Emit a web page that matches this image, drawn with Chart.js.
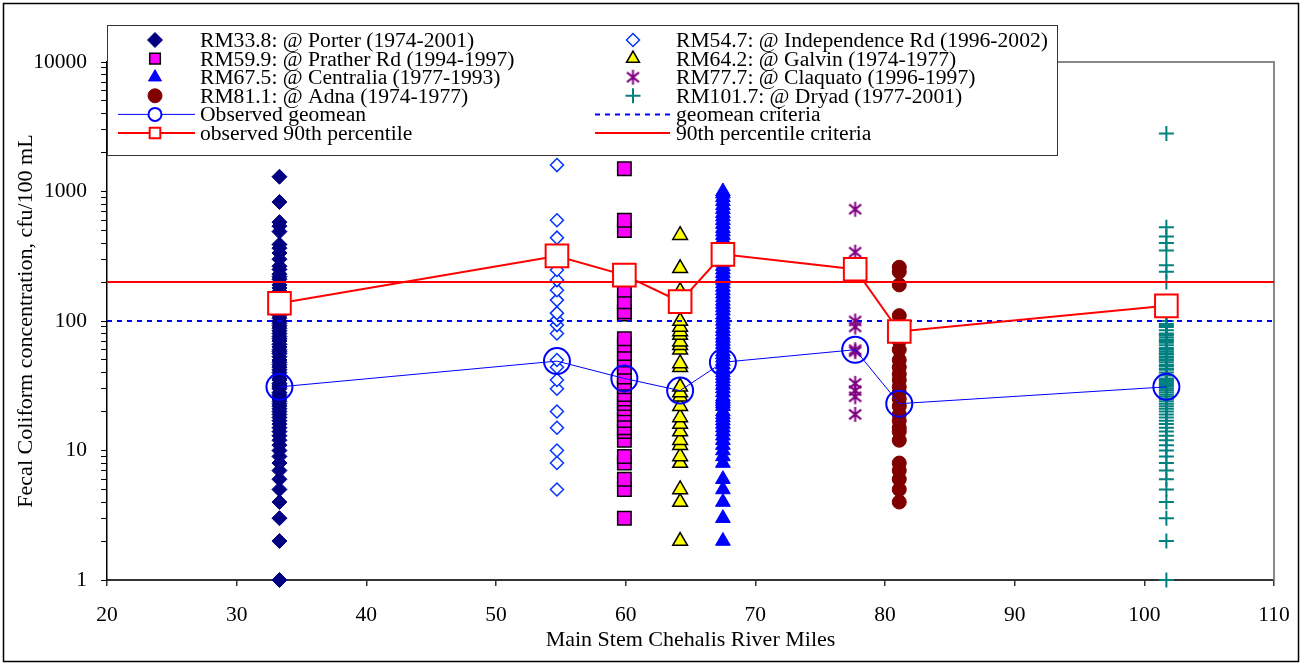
<!DOCTYPE html>
<html>
<head>
<meta charset="utf-8">
<script src="https://cdn.jsdelivr.net/npm/chart.js@4.4.1/dist/chart.umd.min.js"></script>
<style>
  html, body { margin: 0; padding: 0; background: #fff; }
  #wrap { width: 1302px; height: 665px; }
</style>
</head>
<body>
<div id="wrap"><canvas id="myChart" width="1302" height="665" style="width:1302px;height:665px"></canvas></div>
<script>
// station labels and river mile positions
const stationLabels = [
  "RM33.8: @ Porter (1974-2001)",
  "RM54.7: @ Independence Rd (1996-2002)",
  "RM59.9: @ Prather Rd (1994-1997)",
  "RM64.2: @ Galvin (1974-1977)",
  "RM67.5: @ Centralia (1977-1993)",
  "RM77.7: @ Claquato (1996-1997)",
  "RM81.1: @ Adna (1974-1977)",
  "RM101.7: @ Dryad (1977-2001)",
];
const stationMiles = [33.3, 54.7, 59.9, 64.2, 67.5, 77.7, 81.1, 101.7];

// fecal coliform samples, cfu/100 mL
const porterValues = [1, 2, 3, 4, 5, 6, 7, 8, 9, 10, 11, 12, 13, 14, 15, 16, 17, 18, 19, 20, 21, 22, 23, 24, 25, 26, 27, 28, 30, 31, 32, 33, 35, 36, 38, 40, 42, 44, 46, 48, 50, 53, 56, 58, 60, 63, 66, 70, 73, 76, 80, 84, 88, 92, 96, 100, 105, 110, 115, 120, 125, 130, 140, 150, 160, 170, 180, 190, 200, 210, 220, 230, 250, 265, 300, 335, 365, 390, 490, 540, 580, 830, 1300];
const independenceValues = [5, 8, 10, 15, 20, 30, 35, 44, 50, 80, 93, 102, 115, 145, 173, 207, 248, 305, 440, 600, 1600];
const pratherValues = [3, 5, 6, 8, 9, 12, 14, 15, 17, 19, 21, 23, 25, 27, 31, 33, 37, 44, 50, 56, 65, 73, 113, 118, 141, 173, 500, 600, 1500];
const galvinValues = [2, 4, 5, 8, 9, 11, 12, 14, 16, 18, 22, 26, 28, 31, 44, 47, 60, 65, 69, 78, 83, 90, 100, 170, 255, 460];
const centraliaValues = [2, 3, 4, 5, 6, 8, 9, 10, 11, 12, 13, 14, 15, 16, 17, 18, 19, 20, 22, 23, 24, 25, 26, 28, 30, 32, 34, 36, 38, 40, 43, 46, 49, 52, 55, 58, 62, 66, 70, 74, 78, 83, 88, 94, 100, 106, 112, 120, 127, 135, 143, 152, 162, 172, 183, 195, 207, 220, 234, 249, 265, 282, 300, 320, 340, 360, 380, 400, 430, 460, 490, 520, 560, 600, 640, 680, 730, 780, 840, 900, 960, 1000];
const claquatoValues = [19, 26, 29, 33, 58, 60, 90, 100, 340, 730];
const adnaValues = [4, 5, 6, 7, 8, 12, 14, 15, 17, 19, 22, 25, 28, 31, 35, 39, 44, 50, 60, 70, 80, 90, 110, 190, 240, 260];
const dryadValues = [1, 2, 3, 4, 5, 6, 7, 8, 9, 10, 11, 12, 13, 14, 15, 16, 17, 18, 19, 20, 21, 22, 23, 24, 25, 26, 27, 28, 29, 30, 31, 32, 33, 34, 35, 36, 38, 40, 42, 43, 45, 46, 48, 50, 52, 53, 55, 56, 58, 60, 62, 65, 68, 70, 72, 75, 78, 80, 85, 90, 92, 95, 100, 200, 240, 270, 350, 400, 450, 530, 2800];
const stationValues = [porterValues, independenceValues, pratherValues, galvinValues, centraliaValues, claquatoValues, adnaValues, dryadValues];

const geomeanValues = [31, 49, 36, 29, 48, 60, 23, 31];
const pct90Values = [137, 318, 226, 141, 327, 251, 83, 131];
const geomeanCriteria = 100;
const pct90Criteria = 200;

const xMin = 20;
const xMax = 110;
const xStep = 10;
const yTickLabels = [1, 10, 100, 1000, 10000];

const FONT = '"Liberation Serif", "Times New Roman", serif';

function makeAsterisk(size, color) {
  const c = document.createElement("canvas");
  c.width = size;
  c.height = size;
  const g = c.getContext("2d");
  const m = size / 2;
  const r = size / 2 - 1;
  g.strokeStyle = color;
  g.lineWidth = 2;
  g.beginPath();
  g.moveTo(m, m - r);
  g.lineTo(m, m + r);
  g.moveTo(m - r * 0.8, m - r * 0.65);
  g.lineTo(m + r * 0.8, m + r * 0.65);
  g.moveTo(m - r * 0.8, m + r * 0.65);
  g.lineTo(m + r * 0.8, m - r * 0.65);
  g.stroke();
  return c;
}

const stationStyles = [
  { pointStyle: "rectRot", radius: 7.5, fill: "#000080", border: "#000080", width: 1 },
  { pointStyle: "rectRot", radius: 6.5, fill: "#ffffff", border: "#0033ff", width: 1.5 },
  { pointStyle: "rect", radius: 9.5, fill: "#ff00ff", border: "#000000", width: 1.5 },
  { pointStyle: "triangle", radius: 8.5, fill: "#ffff00", border: "#000000", width: 1.5 },
  { pointStyle: "triangle", radius: 8.5, fill: "#0000ff", border: "#0000ff", width: 1 },
  { pointStyle: makeAsterisk(17, "#800080"), radius: 8, fill: "#800080", border: "#800080", width: 2 },
  { pointStyle: "circle", radius: 7, fill: "#800000", border: "#800000", width: 1 },
  { pointStyle: "cross", radius: 7.5, fill: "#008080", border: "#008080", width: 2 },
];

const datasets = stationValues.map((vals, i) => ({
  label: stationLabels[i],
  data: vals.map((v) => ({ x: stationMiles[i], y: v })),
  showLine: false,
  pointStyle: stationStyles[i].pointStyle,
  pointRadius: stationStyles[i].radius,
  pointHoverRadius: stationStyles[i].radius,
  pointBackgroundColor: stationStyles[i].fill,
  pointBorderColor: stationStyles[i].border,
  pointBorderWidth: stationStyles[i].width,
  legendRadius: stationStyles[i].radius,
  clip: false,
  order: 10,
}));

datasets.push({
  label: "Observed geomean",
  data: geomeanValues.map((v, i) => ({ x: stationMiles[i], y: v })),
  showLine: true,
  borderColor: "#0000ff",
  borderWidth: 1,
  pointStyle: "circle",
  pointRadius: 13,
  pointBackgroundColor: "rgba(0,0,0,0)",
  pointBorderColor: "#0000ff",
  pointBorderWidth: 2,
  legendRadius: 6.5,
  clip: false,
  order: 2,
});
datasets.push({
  label: "observed 90th percentile",
  data: pct90Values.map((v, i) => ({ x: stationMiles[i], y: v })),
  showLine: true,
  borderColor: "#ff0000",
  borderWidth: 2,
  pointStyle: "rect",
  pointRadius: 16,
  pointBackgroundColor: "#ffffff",
  pointBorderColor: "#ff0000",
  pointBorderWidth: 2,
  legendRadius: 8,
  clip: false,
  order: 1,
});
datasets.push({
  label: "geomean criteria",
  data: [{ x: xMin, y: geomeanCriteria }, { x: xMax, y: geomeanCriteria }],
  showLine: true,
  borderColor: "#0000ff",
  borderWidth: 2,
  borderDash: [5, 5],
  pointRadius: 0,
  legendRadius: 0,
  order: 5,
});
datasets.push({
  label: "90th percentile criteria",
  data: [{ x: xMin, y: pct90Criteria }, { x: xMax, y: pct90Criteria }],
  showLine: true,
  borderColor: "#ff0000",
  borderWidth: 2,
  pointRadius: 0,
  legendRadius: 0,
  order: 5,
});

// log axis ticks 1..9 per decade
const yTickValues = [];
for (let d = 0; d < yTickLabels.length - 1; d++) {
  for (let k = 1; k < 10; k++) yTickValues.push(k * yTickLabels[d]);
}
yTickValues.push(yTickLabels[yTickLabels.length - 1]);

const legendColumns = [
  [0, 2, 4, 6, 8, 9],
  [1, 3, 5, 7, 10, 11],
];

const boxLegend = {
  id: "boxLegend",
  afterDraw(chart) {
    const ctx = chart.ctx;
    const box = { x: 107, y: 25, w: 950, h: 130 };
    ctx.save();
    ctx.fillStyle = "#ffffff";
    ctx.fillRect(box.x, box.y, box.w, box.h);
    ctx.strokeStyle = "#333333";
    ctx.lineWidth = 1;
    ctx.strokeRect(box.x + 0.5, box.y + 0.5, box.w, box.h);
    const cols = [
      { marker: 155, x0: 118, x1: 195, text: 200 },
      { marker: 633, x0: 595, x1: 670, text: 676 },
    ];
    legendColumns.forEach((col, c) => {
      col.forEach((di, r) => {
        const ds = chart.data.datasets[di];
        const cy = 40 + r * 18.6;
        const lay = cols[c];
        if (ds.showLine) {
          ctx.save();
          ctx.strokeStyle = ds.borderColor;
          ctx.lineWidth = ds.borderWidth;
          ctx.setLineDash(ds.borderDash || []);
          ctx.beginPath();
          ctx.moveTo(lay.x0, cy);
          ctx.lineTo(lay.x1, cy);
          ctx.stroke();
          ctx.restore();
        }
        if (ds.legendRadius > 0) {
          ctx.save();
          ctx.strokeStyle = ds.pointBorderColor;
          ctx.lineWidth = ds.pointBorderWidth;
          ctx.fillStyle = ds.pointBackgroundColor === "rgba(0,0,0,0)" ? "#ffffff" : ds.pointBackgroundColor;
          Chart.helpers.drawPoint(ctx, {
            pointStyle: ds.pointStyle,
            rotation: 0,
            radius: Math.min(ds.legendRadius, 7.5),
            borderWidth: ds.pointBorderWidth,
          }, lay.marker, cy);
          ctx.restore();
        }
        ctx.fillStyle = "#000000";
        ctx.font = "21.6px " + FONT;
        ctx.textBaseline = "alphabetic";
        ctx.fillText(ds.label, lay.text, cy + 7);
      });
    });
    ctx.restore();
  },
};

const framePlugin = {
  id: "frame",
  beforeDraw(chart) {
    const ctx = chart.ctx;
    ctx.save();
    ctx.fillStyle = "#ffffff";
    ctx.fillRect(0, 0, chart.width, chart.height);
    ctx.restore();
  },
  beforeDatasetsDraw(chart) {
    const { ctx, chartArea } = chart;
    ctx.save();
    ctx.strokeStyle = "#888888";
    ctx.lineWidth = 2;
    ctx.beginPath();
    ctx.moveTo(chartArea.left, chartArea.top);
    ctx.lineTo(chartArea.right, chartArea.top);
    ctx.lineTo(chartArea.right, chartArea.bottom);
    ctx.stroke();
    ctx.restore();
  },
  afterDraw(chart) {
    const ctx = chart.ctx;
    ctx.save();
    ctx.strokeStyle = "#000000";
    ctx.lineWidth = 1.5;
    ctx.strokeRect(3.5, 3.5, chart.width - 7, chart.height - 7);
    ctx.restore();
  },
};

Chart.defaults.color = "#000000";
Chart.defaults.font.family = FONT;
Chart.defaults.font.size = 21;

const ctx = document.getElementById("myChart").getContext("2d");
const myChart = new Chart(ctx, {
  type: "scatter",
  data: { datasets: datasets },
  options: {
    responsive: false,
    animation: false,
    devicePixelRatio: 1,
    layout: { padding: { top: 62, right: 28, left: 0, bottom: 0 } },
    plugins: {
      legend: { display: false },
      tooltip: { enabled: false },
    },
    scales: {
      x: {
        type: "linear",
        min: xMin,
        max: xMax,
        ticks: { stepSize: xStep, padding: 16, font: { size: 21.5 }, color: "#000" },
        grid: { drawOnChartArea: false, drawTicks: true, tickLength: 6, color: "#333", lineWidth: 1.5 },
        border: { color: "#333", width: 2 },
        title: {
          display: true,
          text: "Main Stem Chehalis River Miles",
          font: { size: 22 },
          color: "#000",
          padding: { top: 0, bottom: 12 },
        },
        afterFit(scale) {
          scale.height = 85;
          scale.paddingLeft = 0;
          scale.paddingRight = 0;
        },
      },
      y: {
        type: "logarithmic",
        min: 1,
        max: 10000,
        afterBuildTicks(scale) {
          scale.ticks = yTickValues.map((v) => ({ value: v }));
        },
        ticks: {
          autoSkip: false,
          padding: 14,
          font: { size: 21.5 },
          color: "#000",
          callback: (v) => (yTickLabels.includes(v) ? String(v) : ""),
        },
        grid: { drawOnChartArea: false, drawTicks: true, tickLength: 6, color: "#000", lineWidth: 1 },
        border: { color: "#000", width: 1.5 },
        title: {
          display: true,
          text: "Fecal Coliform concentration, cfu/100 mL",
          font: { size: 22 },
          color: "#000",
          padding: { top: 13, bottom: 0 },
        },
        afterFit(scale) {
          scale.width = 107;
          scale.paddingTop = 0;
          scale.paddingBottom = 0;
        },
      },
    },
  },
  plugins: [framePlugin, boxLegend],
});
</script>
</body>
</html>
